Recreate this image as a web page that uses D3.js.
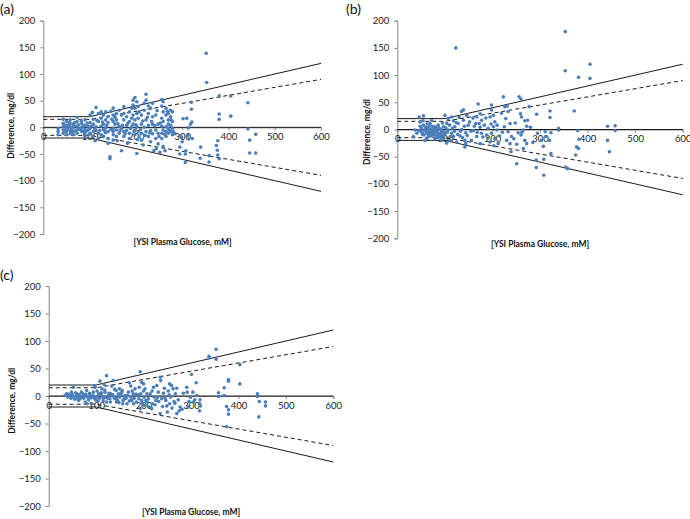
<!DOCTYPE html>
<html><head><meta charset="utf-8">
<script src="https://cdn.jsdelivr.net/npm/d3@7"></script>
<style>body{margin:0;background:#fff}svg{display:block;font-family:Lato,"Open Sans",sans-serif}</style>
</head><body><svg id="c" width="690" height="519"></svg>
<script>
// ---- data ----
const panelLabels = ["(a)", "(b)", "(c)"];
const xTicks = [0, 100, 200, 300, 400, 500, 600];
const yTicks = [-200, -150, -100, -50, 0, 50, 100, 150, 200];
const xTitle = "[YSI Plasma Glucose, mM]";
const yTitle = "Difference, mg/dl";
// error-grid boundaries: [x, y]
const solidUpper = [[0, 20], [100, 20], [600, 120]];
const dashedUpper = [[0, 15], [100, 15], [600, 90]];
const zeroLine = [[0, 0], [600, 0]];

const pointsA = [
[32,-2],[32,-8],[32,-14],[43,15],[43,7],[43,1],[43,-5],[43,-11],[50,11],[50,4],[50,-2],[50,-8],[50,-14],
[58,14],[58,7],[58,1],[58,-6],[58,-12],[65,6],[65,0],[65,-8],[65,-14],[73,19],[73,11],[73,2],[73,-5],[73,-11],
[83,7],[83,0],[83,-8],[90,14],[90,4],[90,-4],[90,-10],[90,-16],[97,2],[97,-5],[54,3],[61,-3],[47,-6],[68,9],[78,-3],[86,-7],
[101,23],[101,9],[101,-2],[101,-11],[108,15],[108,6],[108,-8],[108,-17],[114,37],[114,1],[114,-6],
[119,26],[119,11],[119,-11],[119,-21],[125,29],[125,17],[125,2],[125,-14],[130,23],[130,6],[130,-4],[130,-17],
[135,29],[135,14],[135,-1],[135,-10],[140,20],[140,9],[140,-8],[140,-21],[140,-30],[144,-55],[144,-59],
[151,36],[151,23],[151,11],[151,-2],[151,-14],[151,-8],[151,-24],[155,19],[155,6],
[158,26],[158,14],[158,-5],[158,-17],[164,32],[164,2],[164,-11],[169,-44],[169,23],[169,-2],
[174,39],[174,26],[174,14],[174,-8],[174,-17],[180,20],[180,4],[180,-6],[186,29],[186,11],[186,-11],[186,-21],
[191,36],[191,17],[191,1],[194,51],[194,42],[194,23],[194,6],[198,56],[198,36],[198,14],[198,-5],[198,-14],
[202,48],[202,26],[202,1],[202,-49],[205,39],[205,17],[205,-8],
[212,23],[212,6],[212,-11],[212,-24],[218,45],[218,32],[218,0],[222,62],[222,51],[222,14],[222,-8],
[227,40],[227,26],[227,4],[227,-17],[232,36],[232,-6],[232,-27],[236,45],[236,20],[236,6],[236,-12],[239,-44],
[243,23],[243,-5],[243,-21],[248,6],[248,-11],[248,-31],[252,-47],
[256,52],[256,40],[256,17],[256,2],[256,-11],[256,-21],[259,48],[259,29],[259,11],[259,-5],[259,-36],
[265,36],[265,23],[265,1],[265,-8],[265,-17],[270,26],[270,14],[270,6],[270,-2],[270,-11],
[275,32],[275,20],[275,4],[275,-8],[279,29],[279,11],[279,-2],[279,-14],
[302,16],[310,17],[313,-1],[318,6],[321,10],[320,47],[320,34],[312,-15],[314,-22],[322,-21],[297,-16],[299,-19],
[300,-27],[295,-37],[295,-50],[307,-50],[307,-66],[308,-44],
[352,139],[353,84],[380,59],[405,59],[380,25],[380,15],[405,21],[442,46],[442,-3],[446,-24],[459,-13],[446,-48],[459,-48],
[380,-59],[377,-52],[376,-43],[374,-34],[377,-25],[358,-53],[358,-65],[340,-37],[339,-58],
[46,4],[52,-3],[56,9],[62,-1],[66,3],[70,-6],[76,5],[80,-4],[87,2],[93,-7],[95,8],[104,2],[111,-3],[116,13],
[122,-6],[128,10],[133,-8],[137,4],[146,-4],[148,15],[161,7],[166,-6],[171,4],[177,-12],[183,8],[188,-2],
[196,-8],[200,5],[207,29],[210,-4],[215,12],[220,-15],[225,19],[230,-10],[234,11],[241,3],[246,31],[250,-17],
[253,8],[262,-13],[268,30],[272,-5],[276,14],[281,-8],[285,-12],[60,-9],[82,12],[99,-14],[106,28],[112,-25],
[146,30],[160,-25],[182,-30],[203,-23],[216,-33],[244,-40],[263,-44]
];

const pointsB = [
[123,150],[353,180],[353,108],[381,96],[405,120],[405,94],[372,34],[379,-2],[382,-18],[377,-32],[381,-35],[375,-47],
[358,-72],[354,-69],[442,6],[458,7],[458,-2],[442,-20],[446,-41],[339,2],[339,-1],
[308,-84],[308,-55],[292,-70],[292,-56],[293,28],[321,34],[321,22],[311,-4],[313,-13],[320,-20],[323,-6],[323,-44],
[303,-20],[307,-31],[295,-7],
[256,60],[260,56],[259,29],[261,23],[268,16],[272,6],[265,-1],[260,-10],[268,-20],[272,-26],[265,-35],[254,-6],
[251,-27],[251,-63],[277,42],[274,17],
[223,60],[226,42],[231,43],[233,33],[228,20],[237,11],[225,5],[233,-4],[240,-13],[230,-20],[237,-26],[239,-41],
[198,45],[198,36],[202,26],[195,23],[205,14],[197,10],[202,5],[191,2],[209,-1],[198,-7],[188,-10],[205,-17],[195,-23],[212,-26],
[170,47],[174,29],[167,23],[177,17],[165,11],[174,4],[160,-2],[177,-7],[167,-13],[156,-20],[174,-26],
[139,36],[135,33],[146,26],[139,17],[128,11],[149,8],[135,0],[144,-6],[132,-12],[142,-20],[144,-26],[142,-32],
[100,26],[107,20],[114,23],[118,16],[104,11],[121,5],[107,-1],[114,-7],[100,-10],[118,-13],[111,-20],[125,-23],[104,-25],
[37,-1],[34,-13],[46,23],[55,25],[48,14],[55,8],[51,2],[58,-2],[62,-7],[65,2],[69,11],[72,-4],[76,-10],[79,5],
[83,-1],[86,-7],[90,-13],[93,-4],[97,5],[65,-13],[58,-20],[79,-17],[72,17],[86,8],[93,-20],[99,-7],[74,-7],
[81,-4],[88,0],[62,-17],[50,-4],[41,-7],[68,-3],[77,-6],[84,-11],[60,4],[53,-9],[91,-9],[82,-13],[70,-9],
[45,-2],[48,6],[52,-5],[54,16],[56,-10],[59,3],[61,-4],[63,10],[66,-8],[67,5],[70,0],[71,-12],[73,6],[75,-2],
[77,2],[78,-9],[80,-2],[82,3],[84,-5],[85,-15],[87,3],[89,-9],[92,1],[94,-11],[95,12],[96,-3],[98,-16],[102,3],
[105,-5],[110,8],[113,-13],[116,2],[120,-3],[124,13],[127,-9],[130,22],[133,-3],[137,-15],[141,6],[147,-11],
[152,14],[155,-3],[159,21],[162,6],[168,-5],[172,11],[180,-14],[183,8],[186,21],[190,-16],[203,-30],[210,8],
[215,-12],[219,30],[221,-5],[245,-17],[248,12],[262,-5],[280,4],[285,-24]
];

const pointsC = [
[338,72],[338,69],[353,85],[353,67],[403,57],[403,22],[379,30],[379,27],[370,15],[370,1],[358,6],[358,-1],
[375,-19],[379,-25],[379,-33],[375,-56],[440,4],[440,-1],[444,-10],[443,-38],[457,-11],[457,-18],
[301,39],[311,24],[304,7],[298,-2],[312,1],[319,-7],[318,-14],[320,-18],[318,-27],[291,16],[292,7],[305,-11],[294,-20],
[277,-20],[275,-27],[270,-32],[273,-7],[267,4],[259,19],[262,13],[257,-2],[252,9],[247,-8],[250,-29],[255,-14],[242,5],[240,-19],
[235,34],[236,28],[228,19],[231,7],[226,-8],[235,-32],[221,16],[222,-2],[219,-14],[214,4],[217,-23],
[193,44],[196,25],[191,16],[200,9],[194,4],[201,-2],[196,-8],[201,-17],[193,-23],[207,4],[205,-8],
[168,7],[173,-2],[178,4],[175,-8],[182,13],[185,-11],[165,-14],[173,18],[170,24],
[136,28],[142,10],[147,4],[150,-2],[154,7],[157,-8],[143,-11],[161,1],[149,13],[156,-14],[140,-5],
[122,37],[108,27],[112,13],[119,7],[126,1],[129,-5],[115,-8],[122,-11],[105,4],[101,-2],[98,16],[133,18],[94,7],
[80,10],[73,1],[66,-5],[59,4],[56,-2],[48,7],[52,16],[45,1],[38,4],[34,1],[63,-8],[77,-11],[84,-7],[87,1],
[69,7],[91,-14],[81,-14],[55,-6],[62,2],[70,-2],[96,-4],[104,-9],[110,2],[117,-3],[131,4],[138,-3],[145,-8],
[163,-4],[180,-4],[188,2],[210,-5],[229,-3],[245,-3],[264,-10],
[40,-2],[42,3],[47,-4],[50,2],[53,-1],[57,6],[60,-3],[64,2],[67,-1],[71,5],[74,-4],[78,3],[82,-2],[86,5],
[89,-3],[93,1],[99,-7],[102,9],[107,-4],[111,6],[114,-2],[118,11],[124,-4],[127,5],[130,-11],[135,2],[139,12],
[144,-2],[148,-12],[152,3],[155,10],[159,-5],[166,1],[170,-9],[176,9],[179,-14],[184,3],[190,-5],[197,-13],
[203,13],[208,-11],[212,-20],[218,9],[224,-16],[232,-10],[238,-5],[244,14],[249,-18],[254,2],[260,-22],
[266,-13],[270,14],[281,-24],[284,5],[296,-10],[308,-7],[96,19],[117,21],[200,22],[255,22]
];

// ---- drawing ----
const svg = d3.select("#c");
const layouts = [
  {l:43.3, r:321, t:20.7, b:234, lab:[0,8], yt:[11,125.7], xt:[182.5,242]},
  {l:397.3, r:682.7, t:20.7, b:238.3, lab:[346,8], yt:[367,132], xt:[540,244]},
  {l:48.7, r:333.3, t:286, b:506, lab:[0,274], yt:[11.7,400.7], xt:[191,512]}
];
const datasets = [pointsA, pointsB, pointsC];

layouts.forEach((L, i) => {
  const g = svg.append("g");
  const x = d3.scaleLinear().domain([0, 600]).range([L.l, L.r]);
  const y = d3.scaleLinear().domain([-200, 200]).range([L.b, L.t]);

  // y axis
  const ya = g.append("g").attr("transform", `translate(${L.l},0)`)
    .call(d3.axisLeft(y).tickValues(yTicks).tickSize(3).tickPadding(5));
  ya.select(".domain").attr("stroke", "#868686");
  ya.selectAll(".tick line").attr("stroke", "#868686");
  ya.selectAll("text").attr("font-size", 9.5).attr("fill", "#222").attr("font-family", "Lato");

  // x axis at y=0
  const xa = g.append("g").attr("transform", `translate(0,${y(0)})`)
    .call(d3.axisBottom(x).tickValues(xTicks).tickSize(3).tickPadding(3));
  xa.select(".domain").attr("stroke", "#868686");
  xa.selectAll(".tick line").attr("stroke", "#868686");
  xa.selectAll("text").attr("font-size", 9.5).attr("fill", "#222").attr("font-family", "Lato");

  // boundary lines
  const line = d3.line().x(d => x(d[0])).y(d => y(d[1]));
  const neg = a => a.map(d => [d[0], -d[1]]);
  [[solidUpper, null], [neg(solidUpper), null], [dashedUpper, "4,3"], [neg(dashedUpper), "4,3"], [zeroLine, null]]
    .forEach(([pts, dash]) => {
      g.append("path").attr("d", line(pts)).attr("fill", "none")
        .attr("stroke", "#1a1a1a").attr("stroke-width", 1)
        .attr("stroke-dasharray", dash);
    });

  // points
  g.append("g").selectAll("circle").data(datasets[i]).join("circle")
    .attr("cx", d => x(d[0])).attr("cy", d => y(d[1])).attr("r", 1.8)
    .attr("fill", "#4a7ebb");

  // titles
  g.append("text").attr("x", L.lab[0]).attr("y", L.lab[1]).attr("font-size", 14)
    .attr("dominant-baseline", "central")
    .attr("font-family", "Lato").attr("fill", "#111").text(panelLabels[i]);
  g.append("text").attr("transform", `translate(${L.yt[0]},${L.yt[1]}) rotate(-90)`)
    .attr("text-anchor", "middle").attr("dominant-baseline", "central")
    .attr("font-size", 8.5).attr("font-weight", "bold").attr("fill", "#111").text(yTitle);
  g.append("text").attr("x", L.xt[0]).attr("y", L.xt[1]).attr("text-anchor", "middle")
    .attr("dominant-baseline", "central")
    .attr("font-size", 8.5).attr("font-weight", "bold").attr("fill", "#111").text(xTitle);
});
</script></body></html>
